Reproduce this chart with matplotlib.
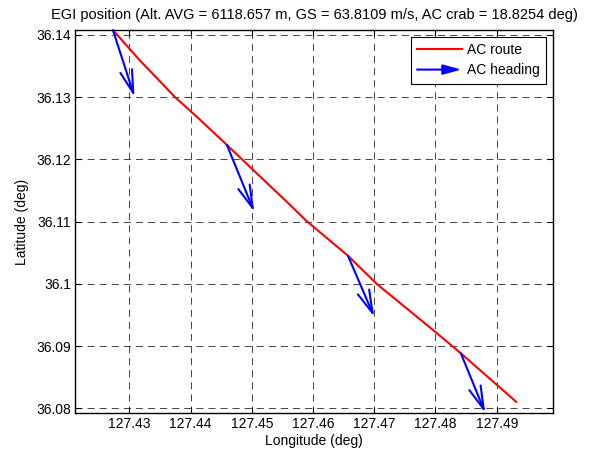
import matplotlib
matplotlib.use("Agg")
import matplotlib.pyplot as plt
from matplotlib.lines import Line2D
from matplotlib.patches import FancyArrowPatch
from matplotlib.legend_handler import HandlerBase

plt.rcParams['font.family'] = ['Liberation Sans', 'DejaVu Sans']

# Aircraft ground track (deg)
route_lon = [127.42729, 127.43163, 127.43747, 127.44127, 127.44592, 127.44837,
             127.45626, 127.45899, 127.46570, 127.47042, 127.47995, 127.48415,
             127.49319]
route_lat = [36.14080, 36.13598, 36.12998, 36.12661, 36.12232, 36.12002,
             36.11267, 36.11005, 36.10452, 36.09997, 36.09230, 36.08883,
             36.08104]

# Heading vectors: base position and components (deg)
head_lon = [127.42729, 127.44592, 127.46570, 127.48415]
head_lat = [36.14080, 36.12232, 36.10452, 36.08883]
head_dlon = [0.00353, 0.00446, 0.00428, 0.00397]
head_dlat = [-0.01072, -0.01073, -0.00980, -0.00955]

x_ticks = [127.43, 127.44, 127.45, 127.46, 127.47, 127.48, 127.49]
y_ticks = [36.08, 36.09, 36.10, 36.11, 36.12, 36.13, 36.14]
y_ticklabels = ['36.08', '36.09', '36.1', '36.11', '36.12', '36.13', '36.14']

title = ('EGI position (Alt. AVG = 6118.657 m, GS = 63.8109 m/s, '
         'AC crab = 18.8254 deg)')


class ArrowHandler(HandlerBase):
    def create_artists(self, legend, orig_handle, xdescent, ydescent,
                       width, height, fontsize, trans):
        y = height / 2 - ydescent
        arr = FancyArrowPatch((-xdescent, y), (-xdescent + width, y),
                              arrowstyle='-|>,head_length=11,head_width=3',
                              mutation_scale=1, color='#0000ff', lw=1.5,
                              shrinkA=0, shrinkB=0, transform=trans)
        return [arr]


fig = plt.figure(figsize=(5.92, 4.55), dpi=100)
ax = fig.add_axes([75 / 592, 1 - 413 / 455, (553 - 75) / 592, (413 - 30) / 455])

ax.plot(route_lon, route_lat, color='#ff0000', lw=1.5, label='AC route')

for x0, y0, dx, dy in zip(head_lon, head_lat, head_dlon, head_dlat):
    ax.annotate('', xy=(x0 + dx, y0 + dy), xytext=(x0, y0),
                arrowprops=dict(arrowstyle='->,head_length=16.5,head_width=4.4',
                                mutation_scale=1, color='#0000ff', lw=1.5,
                                shrinkA=0, shrinkB=0),
                annotation_clip=False)

ax.set_xlim(127.4211, 127.4992)
ax.set_ylim(36.07925, 36.1408)
ax.set_xticks(x_ticks)
ax.set_xticklabels([f'{v:.2f}' for v in x_ticks])
ax.set_yticks(y_ticks)
ax.set_yticklabels(y_ticklabels)

ax.grid(True, color='#262626', linestyle=(0, (8.5, 6)), linewidth=0.6)
ax.tick_params(direction='in', top=True, right=True, length=4, width=0.8,
               labelsize=10, pad=3)
for sp in ax.spines.values():
    sp.set_linewidth(1.0)

ax.set_title(title, fontsize=10.5, pad=8)
ax.set_xlabel('Longitude (deg)', fontsize=10, labelpad=2)
ax.set_ylabel('Latitude (deg)', fontsize=10, labelpad=5)

heading_proxy = Line2D([], [], color='#0000ff', lw=1.5, label='AC heading')
route_handle = ax.get_lines()[0]
leg = ax.legend([route_handle, heading_proxy], ['AC route', 'AC heading'],
                loc='upper right', fontsize=10, fancybox=False,
                edgecolor='k', framealpha=1, handlelength=3.2,
                handletextpad=0.4, borderaxespad=0.5, borderpad=0.45,
                labelspacing=0.45,
                handler_map={heading_proxy: ArrowHandler()})
leg.get_frame().set_linewidth(0.8)

fig.savefig('out.png', dpi=100)
